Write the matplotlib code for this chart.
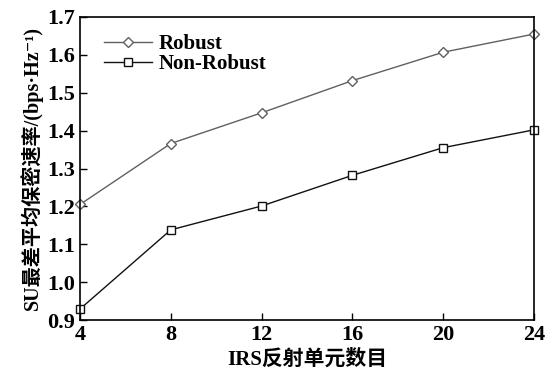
import matplotlib
matplotlib.use('Agg')
import matplotlib.pyplot as plt

# données
irs_units = [4, 8, 12, 16, 20, 24]
robust = [1.205, 1.366, 1.447, 1.532, 1.607, 1.655]
non_robust = [0.929, 1.138, 1.201, 1.282, 1.355, 1.402]
yticks = [0.9, 1.0, 1.1, 1.2, 1.3, 1.4, 1.5, 1.6, 1.7]

plt.rcParams['font.family'] = ['Liberation Serif', 'Noto Sans CJK SC', 'DejaVu Serif']
plt.rcParams['font.weight'] = 'bold'

fig = plt.figure(figsize=(5.46, 3.75), dpi=100)
ax = fig.add_axes([80/546, 1-320/375, 454/546, 303/375])

ax.plot(irs_units, robust, color='#606060', lw=1.0, marker='D', ms=5.5,
        mfc='white', mec='#606060', mew=1.0, label='Robust', clip_on=False)
ax.plot(irs_units, non_robust, color='#111111', lw=1.0, marker='s', ms=5.5,
        mfc='white', mec='#111111', mew=1.0, label='Non-Robust', clip_on=False)

ax.set_xlim(4, 24)
ax.set_ylim(0.9, 1.7)
ax.set_xticks(irs_units)
ax.set_yticks(yticks)
ax.set_yticklabels([f'{v:.1f}' for v in yticks])
ax.tick_params(direction='in', labelsize=16, length=5, width=1)
for lab in ax.get_xticklabels() + ax.get_yticklabels():
    lab.set_fontweight('bold')
for s in ax.spines.values():
    s.set_linewidth(1.2)

ax.set_xlabel('IRS反射单元数目', fontsize=15, fontweight='bold', labelpad=3)
ax.set_ylabel('SU最差平均保密速率/(bps·Hz⁻¹)', fontsize=14.5, fontweight='bold', labelpad=3)

leg = ax.legend(loc='upper left', bbox_to_anchor=(0.025, 0.985), frameon=False,
                fontsize=15, handlelength=2.3, labelspacing=0.0, borderaxespad=0.2,
                handletextpad=0.35)
for t in leg.get_texts():
    t.set_fontweight('bold')

fig.savefig('out.png', dpi=100)
